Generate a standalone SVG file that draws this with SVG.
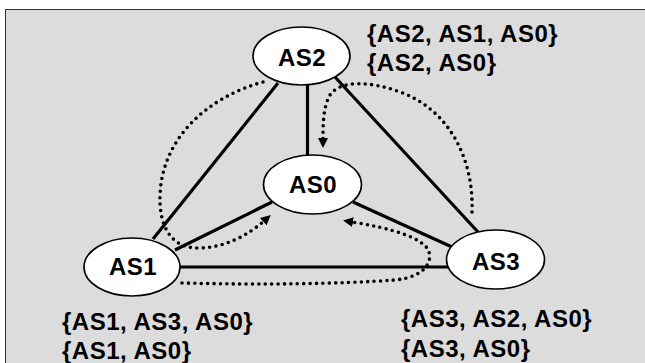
<svg xmlns="http://www.w3.org/2000/svg" width="645" height="363" viewBox="0 0 645 363">
<style>
.frame{fill:#dcdcdc;stroke:#333;stroke-width:1}
.node ellipse{fill:#fff;stroke:#000;stroke-width:1.6}
.lbl{font-family:"Liberation Sans",Arial,sans-serif;font-weight:bold;font-size:24px;letter-spacing:0.5px;fill:#000}
.nl{text-anchor:middle}
.solid{stroke:#000;stroke-width:3.2;fill:none}
.dot{stroke:#000;stroke-width:3.6;fill:none;stroke-dasharray:0 6.4;stroke-linecap:round}
</style>
<defs>
<marker id="ah" viewBox="0 0 10 10" refX="1" refY="5" markerWidth="10" markerHeight="10" markerUnits="userSpaceOnUse" orient="auto">
<path d="M0,0 L10,5 L0,10 z" fill="#000"/>
</marker>
</defs>
<rect class="frame" x="5.5" y="9.5" width="645" height="360"/>
<g id="connectors">
<line class="solid" x1="278" y1="83" x2="153" y2="239"/>
<line class="solid" x1="307.5" y1="85" x2="307.5" y2="155"/>
<line class="solid" x1="335" y1="77" x2="478" y2="232"/>
<line class="solid" x1="272" y1="202" x2="175" y2="250"/>
<line class="solid" x1="353" y1="202" x2="452" y2="247"/>
<line class="solid" x1="180" y1="267" x2="448" y2="267"/>
<path class="dot" d="M263,82 C205,98 162,140 160,195 C159,225 170,248 198,248 C225,248 248,235 264,221" marker-end="url(#ah)"/>
<path class="dot" d="M182,283 C260,285 340,284 395,280 C425,277 432,262 429,252 C425,238 390,228 352,222" marker-end="url(#ah)"/>
<path class="dot" d="M472,212 C474,160 450,110 400,92 C370,81 340,80 330,95 C323,107 323,125 323,139" marker-end="url(#ah)"/>
</g>
<g id="AS2" class="node"><ellipse cx="301.5" cy="56" rx="48.5" ry="29"/><text class="lbl nl" x="302" y="65.5">AS2</text></g>
<g id="AS0" class="node"><ellipse cx="312.5" cy="184.5" rx="49" ry="29.5"/><text class="lbl nl" x="313" y="193">AS0</text></g>
<g id="AS1" class="node"><ellipse cx="132" cy="267" rx="48" ry="29"/><text class="lbl nl" x="133" y="275">AS1</text></g>
<g id="AS3" class="node"><ellipse cx="495.5" cy="259.5" rx="49" ry="29.5"/><text class="lbl nl" x="496" y="270">AS3</text></g>
<g id="labels">
<text class="lbl" x="367" y="42">{AS2, AS1, AS0}</text>
<text class="lbl" x="367" y="71">{AS2, AS0}</text>
<text class="lbl" x="62" y="330">{AS1, AS3, AS0}</text>
<text class="lbl" x="62" y="359">{AS1, AS0}</text>
<text class="lbl" x="401" y="327">{AS3, AS2, AS0}</text>
<text class="lbl" x="401" y="357">{AS3, AS0}</text>
</g>
</svg>
